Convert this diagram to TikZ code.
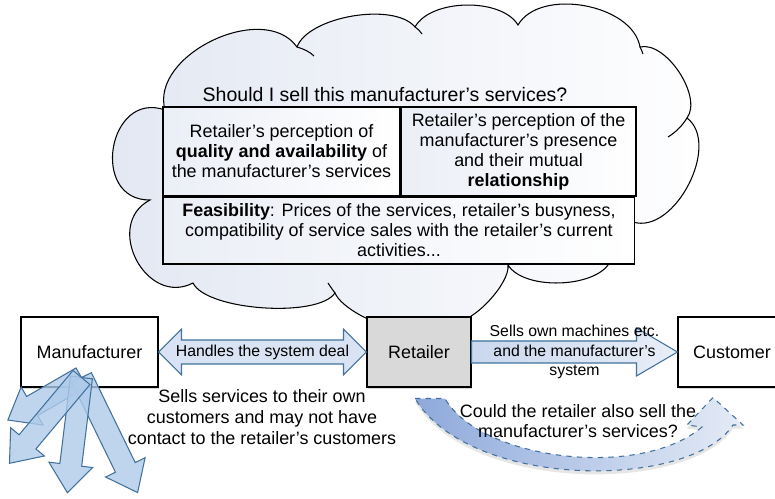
\documentclass[tikz,border=0pt]{standalone}
\usepackage{fontspec}
\setmainfont{Liberation Sans}
\usetikzlibrary{positioning,calc,shadows}

\definecolor{cloudblue}{HTML}{E2E7F2}
\definecolor{arrowline}{HTML}{41719C}
\definecolor{arrowfill}{HTML}{DAE3F3}
\definecolor{fanfill}{HTML}{AFCBEA}
\definecolor{curvedark}{HTML}{8EA9DB}
\definecolor{retailgray}{HTML}{D9D9D9}

\tikzset{
  txt/.style={font=\fontsize{10.2pt}{11.4pt}\selectfont, align=center, inner sep=0pt},
  smalltxt/.style={txt, font=\fontsize{9pt}{10.9pt}\selectfont},
  cloudline/.style={draw=black, line width=0.6pt},
  cell/.style={txt, draw=black, line width=0.6pt, left color=cloudblue!70, right color=white},
  party/.style={txt, draw=black, line width=0.6pt, fill=white, minimum height=1.4cm,
    drop shadow={shadow xshift=0.4pt, shadow yshift=-1pt, opacity=0.3}},
  fatarrow/.style={draw=arrowline, line width=0.6pt, fill=arrowfill, line join=miter},
  fanarrow/.style={draw=arrowline, line width=0.6pt, fill=fanfill, fill opacity=0.8, line join=miter},
  curvearrow/.style={draw=arrowline, line width=0.6pt, dashed, left color=curvedark, right color=arrowfill!70,
    drop shadow={shadow xshift=0pt, shadow yshift=-2pt, opacity=0.2}},
}

\begin{document}
\begin{tikzpicture}[x=0.02cm, y=-0.02cm]
  \useasboundingbox (0,0) rectangle (775,499);

  % the thought cloud
  \draw[cloudline, left color=cloudblue, right color=white]
    (165,110) to[bend left=80, looseness=1.0] (297,47)
    to[bend left=60, looseness=0.7] (415,27)
    to[bend left=60, looseness=0.8] (518,25)
    to[bend left=70, looseness=0.9] (640,47)
    to[bend left=70, looseness=0.8] (687,118)
    to[bend left=80, looseness=0.95] (633,222)
    -- (610,262)
    to[bend left=60, looseness=0.75] (508,265)
    to[bend left=50, looseness=0.6] (455,322)
    -- (395,325)
    to[bend left=40, looseness=0.6] (335,293)
    to[bend left=60, looseness=0.55] (193,283)
    to[bend left=90, looseness=1.45] (150,200)
    to[bend left=100, looseness=1.7] (165,110)
    -- cycle;
  \draw[cloudline] (297,47) .. controls (304,49) and (310,52) .. (314,56);
  \draw[cloudline] (415,27) .. controls (418,29) and (420,31) .. (422,34);
  \draw[cloudline] (640,47) .. controls (641,49) and (642,51) .. (643,54);
  \draw[cloudline] (687,118) .. controls (682,126) and (676,132) .. (668,137);
  \draw[cloudline] (335,293) .. controls (332,289) and (330,286) .. (328,283);

  \node[txt, font=\fontsize{11.1pt}{12pt}\selectfont] (question) at (385,95) {Should I sell this manufacturer’s services?};
  \node[cell, minimum width=4.74cm, minimum height=1.78cm] (quality) at (281.5,151.5)
    {Retailer’s perception of\\\textbf{quality and availability} of\\the manufacturer’s services};
  \node[cell, minimum width=4.70cm, minimum height=1.78cm, right=0pt of quality] (presence)
    {Retailer’s perception of the\\manufacturer’s presence\\and their mutual\\\textbf{relationship}};
  \node[cell, minimum width=9.44cm, minimum height=1.34cm, anchor=north west] (feasible) at (quality.south west)
    {\textbf{Feasibility}: Prices of the services, retailer’s busyness,\\compatibility of service sales with the retailer’s current\\activities...};

  % the three parties
  \node[party, minimum width=2.74cm] (manu) at (89.5,352) {Manufacturer};
  \node[party, fill=retailgray, minimum width=2.08cm] (retail) at (419,352) {Retailer};
  \node[party, minimum width=2.16cm] (cust) at (732,352) {Customer};

  % block arrows between them
  \draw[fatarrow] (manu.east) -- ++(23,-23) -- ++(0,11) -- ($(retail.west)+(-23,-12)$) -- ++(0,-11)
    -- (retail.west) -- ++(-23,23) -- ++(0,-11) -- ($(manu.east)+(23,12)$) -- ++(0,11) -- cycle;
  \draw[fatarrow, left color=arrowfill!80!curvedark, right color=arrowfill!60]
    ($(retail.east)+(0,-11)$) -- ($(cust.west)+(-41,-11)$) -- ++(0,-13) -- (cust.west)
    -- ++(-41,24) -- ++(0,-13) -- ($(retail.east)+(0,11)$) -- cycle;

  % fan of arrows leaving the manufacturer
  \coordinate (fan) at ($(manu.south)+(-8,-10)$);
  \foreach \ang/\len in {210/85, 296/128, 263/116, 230/112}
    \draw[fanarrow, shift={(fan)}, rotate=\ang]
      (0,-11) -- (\len-28,-11) -- (\len-28,-22) -- (\len,0) -- (\len-28,22) -- (\len-28,11) -- (0,11) -- cycle;

  % curved arrow from retailer towards customer
  \draw[curvearrow] ($(retail.south)+(-4,11)$) -- ++(30,0)
    .. controls (480,460) and (640,480) .. (702,427) -- (687,425) -- ($(cust.south)+(-19,10)$)
    -- (743,425) -- (733,425) .. controls (690,490) and (470,490) .. ($(retail.south)+(-4,11)$) -- cycle;

  \node[smalltxt] (deal) at ($(manu.east)!0.5!(retail.west)$) {Handles the system deal};
  \node[smalltxt] (sellsown) at ($(retail.east)!0.5!(cust.west)$) {Sells own machines etc.\\and the manufacturer’s\\system};
  \node[txt, font=\fontsize{10.2pt}{12pt}\selectfont] (ownsales) at (262,417) {Sells services to their own\\customers and may not have\\contact to the retailer’s customers};
  \node[txt] (couldsell) at (578,421) {Could the retailer also sell the\\manufacturer’s services?};
\end{tikzpicture}
\end{document}
